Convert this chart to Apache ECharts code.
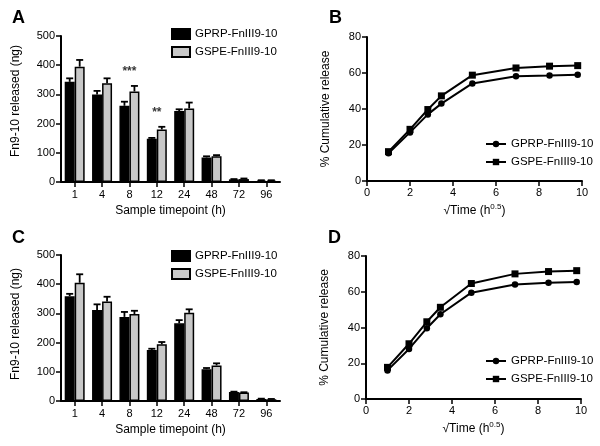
<!DOCTYPE html>
<html>
<head>
<meta charset="utf-8">
<script src="https://cdn.jsdelivr.net/npm/echarts@6/dist/echarts.min.js"></script>
<style>
html,body{margin:0;padding:0;background:#fff;}
#chart{width:600px;height:446px;}
</style>
</head>
<body>
<div id="chart"></div>
<script>
// ---- Data ----
const timeLabels = ['1', '4', '8', '12', '24', '48', '72', '96'];

const A_gprp    = [343, 300, 261, 148, 243, 84, 9, 5];
const A_gprpErr = [12, 12, 14, 3, 6, 4, 1, 1];
const A_gspe    = [395, 338, 310, 180, 252, 88, 10, 5];
const A_gspeErr = [23, 17, 19, 9, 20, 4, 2, 1];
const A_stars   = ['', '', '***', '**', '', '', '', ''];

const C_gprp    = [359, 312, 288, 175, 266, 109, 31, 7];
const C_gprpErr = [8, 19, 17, 4, 11, 4, 1, 1];
const C_gspe    = [405, 341, 298, 194, 302, 122, 29, 6];
const C_gspeErr = [29, 16, 11, 8, 12, 7, 1, 1];

const sqrtTime = [1, 2, 2.83, 3.46, 4.90, 6.93, 8.49, 9.80];
const B_gprp = [15.4, 27.0, 37.0, 43.0, 54.2, 58.2, 58.6, 59.0];
const B_gspe = [16.3, 28.7, 39.7, 47.3, 58.8, 62.8, 63.8, 64.1];
const D_gprp = [16.0, 28.0, 39.6, 47.4, 59.5, 64.0, 65.1, 65.5];
const D_gspe = [17.7, 30.9, 43.2, 51.3, 64.6, 70.0, 71.3, 71.8];

const nameGPRP = 'GPRP-FnIII9-10';
const nameGSPE = 'GSPE-FnIII9-10';

// ---- Styles ----
const FONT = 'Liberation Sans, Arial, Helvetica, sans-serif';
const GRAY = '#c8c8c8';
const CAT_GAP = 0.27;

function axisCommon() {
  return {
    axisLine: {show: true, lineStyle: {color: '#000', width: 2}},
    axisTick: {show: true, length: 5, lineStyle: {color: '#000', width: 1.5}},
    axisLabel: {color: '#000', fontSize: 11, fontFamily: FONT},
    splitLine: {show: false},
    nameTextStyle: {color: '#000', fontSize: 12, fontFamily: FONT}
  };
}

function catAxis(gi) {
  return Object.assign(axisCommon(), {
    type: 'category', gridIndex: gi, data: timeLabels,
    name: 'Sample timepoint (h)', nameLocation: 'middle', nameGap: 23,
    axisTick: {show: true, length: 5, alignWithLabel: true, lineStyle: {color: '#000', width: 1.5}},
    axisLabel: {color: '#000', fontSize: 11, fontFamily: FONT, margin: 7}
  });
}
function barValAxis(gi, shift) {
  return Object.assign(axisCommon(), {
    type: 'value', gridIndex: gi, min: 0, max: 500, interval: 100,
    name: 'Fn9-10 released (ng)', nameLocation: 'middle', nameGap: 39,
    nameTextStyle: {color: '#000', fontSize: 12, fontFamily: FONT, padding: [0, 0, 0, shift]},
    axisLabel: {color: '#000', fontSize: 11, fontFamily: FONT, margin: 6}
  });
}
function timeAxis(gi) {
  return Object.assign(axisCommon(), {
    type: 'value', gridIndex: gi, min: 0, max: 10, interval: 2,
    name: '√Time (h{sup|0.5})', nameLocation: 'middle', nameGap: 22,
    nameTextStyle: {color: '#000', fontSize: 12, fontFamily: FONT, lineHeight: 16,
      rich: {sup: {fontSize: 8, fontFamily: FONT, color: '#000', verticalAlign: 'top', lineHeight: 16, padding: [0, 0, 6, 0]}}},
    axisLabel: {color: '#000', fontSize: 11, fontFamily: FONT, margin: 6}
  });
}
function pctAxis(gi) {
  return Object.assign(axisCommon(), {
    type: 'value', gridIndex: gi, min: 0, max: 80, interval: 20,
    name: '% Cumulative release', nameLocation: 'middle', nameGap: 35,
    axisLabel: {color: '#000', fontSize: 11, fontFamily: FONT, margin: 6}
  });
}

function barSeries(id, name, vals, color, gi) {
  return {
    type: 'bar', name: id + name, xAxisIndex: gi, yAxisIndex: gi,
    data: vals, barGap: '0%', barCategoryGap: (CAT_GAP * 100) + '%',
    itemStyle: {color: color, borderColor: '#000', borderWidth: 1.5},
    emphasis: {disabled: true}, z: 2
  };
}
function errSeries(vals, errs, side, gi) {
  return {
    type: 'custom', xAxisIndex: gi, yAxisIndex: gi, z: 3, silent: true,
    data: vals.map((v, i) => [i, v, errs[i]]),
    encode: {x: 0, y: 1},
    renderItem: function (params, api) {
      const c = api.value(0), m = api.value(1), e = api.value(2);
      const p0 = api.coord([c, m]);
      const p1 = api.coord([c, m + e]);
      const bw = api.size([1, 0])[0];
      const x = p0[0] + side * bw * (1 - CAT_GAP) / 4;
      const cap = 3.5;
      const st = {stroke: '#000', lineWidth: 1.8};
      return {type: 'group', children: [
        {type: 'line', shape: {x1: x, y1: p0[1], x2: x, y2: p1[1]}, style: st},
        {type: 'line', shape: {x1: x - cap, y1: p1[1], x2: x + cap, y2: p1[1]}, style: st}
      ]};
    }
  };
}
function starSeries(vals, errs, stars, gi) {
  return {
    type: 'scatter', xAxisIndex: gi, yAxisIndex: gi, symbolSize: 0, silent: true,
    data: vals.map((v, i) => [i, v + errs[i]]),
    label: {show: true, position: 'top', distance: 8, color: '#000',
      fontSize: 12, fontWeight: 'bold', fontFamily: FONT,
      formatter: p => stars[p.dataIndex]}
  };
}
function lineSeries(id, name, xs, ys, symbol, gi) {
  return {
    type: 'line', name: id + name, xAxisIndex: gi, yAxisIndex: gi,
    data: xs.map((x, i) => [x, ys[i]]),
    symbol: symbol, symbolSize: symbol === 'rect' ? 7 : 6.5, showSymbol: true,
    lineStyle: {color: '#000', width: 2}, itemStyle: {color: '#000'},
    emphasis: {disabled: true}
  };
}

function barLegend(id, top) {
  return {
    orient: 'vertical', left: 171, top: top, padding: 0, itemGap: 6,
    itemWidth: 18, itemHeight: 10, icon: 'rect', selectedMode: false,
    data: [id + nameGPRP, id + nameGSPE],
    formatter: n => n.slice(2),
    textStyle: {color: '#000', fontSize: 11.5, fontFamily: FONT}
  };
}
function lineLegend(id, top) {
  return {
    orient: 'vertical', left: 485, top: top, padding: 0, itemGap: 6,
    itemWidth: 20, itemHeight: 8, selectedMode: false,
    data: [id + nameGPRP, id + nameGSPE],
    formatter: n => n.slice(2),
    textStyle: {color: '#000', fontSize: 11.5, fontFamily: FONT}
  };
}
function panelTitle(t, left, top) {
  return {text: t, left: left, top: top, padding: 0,
    textStyle: {color: '#000', fontSize: 18, fontWeight: 'bold', fontFamily: FONT}};
}

const option = {
  animation: false,
  backgroundColor: '#fff',
  title: [panelTitle('A', 12, 9), panelTitle('B', 329, 9), panelTitle('C', 12, 229), panelTitle('D', 328, 229)],
  legend: [barLegend('A:', 28), lineLegend('B:', 138), barLegend('C:', 250), lineLegend('D:', 355)],
  grid: [
    {left: 61, top: 36, width: 219, height: 146},
    {left: 367, top: 37, width: 215, height: 144},
    {left: 61, top: 255, width: 219, height: 146},
    {left: 366, top: 256, width: 215, height: 143}
  ],
  xAxis: [catAxis(0), timeAxis(1), catAxis(2), timeAxis(3)],
  yAxis: [barValAxis(0, 16), pctAxis(1), barValAxis(2, 8), pctAxis(3)],
  series: [
    barSeries('A:', nameGPRP, A_gprp, '#000', 0),
    barSeries('A:', nameGSPE, A_gspe, GRAY, 0),
    errSeries(A_gprp, A_gprpErr, -1, 0),
    errSeries(A_gspe, A_gspeErr, 1, 0),
    starSeries(A_gspe, A_gspeErr, A_stars, 0),
    lineSeries('B:', nameGPRP, sqrtTime, B_gprp, 'circle', 1),
    lineSeries('B:', nameGSPE, sqrtTime, B_gspe, 'rect', 1),
    barSeries('C:', nameGPRP, C_gprp, '#000', 2),
    barSeries('C:', nameGSPE, C_gspe, GRAY, 2),
    errSeries(C_gprp, C_gprpErr, -1, 2),
    errSeries(C_gspe, C_gspeErr, 1, 2),
    lineSeries('D:', nameGPRP, sqrtTime, D_gprp, 'circle', 3),
    lineSeries('D:', nameGSPE, sqrtTime, D_gspe, 'rect', 3)
  ]
};

const chart = echarts.init(document.getElementById('chart'), null, {renderer: 'canvas'});
chart.setOption(option);
</script>
</body>
</html>
